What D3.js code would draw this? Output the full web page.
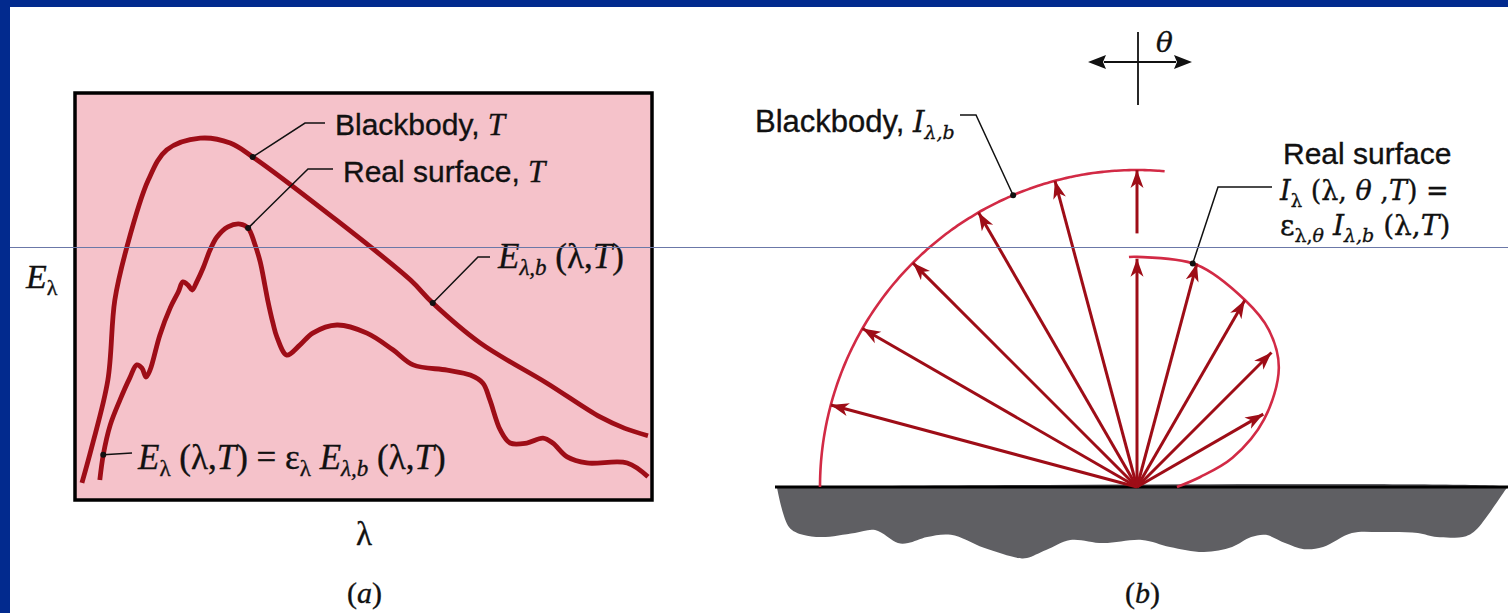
<!DOCTYPE html>
<html>
<head>
<meta charset="utf-8">
<script src="https://cdn.jsdelivr.net/npm/d3@7"></script>
<style>
  html, body { margin: 0; padding: 0; background: #fff; overflow: hidden; }
  svg { display: block; }
</style>
</head>
<body>
<script>
// ---- (a) spectral emissive power, arbitrary units 0..100 across the frame
const bbLambda = [1.2, 2.9, 5.7, 6.9, 9.0, 12.7, 15.9, 21.7, 26.9, 30.8, 44.2, 58.1, 62.0, 70.2, 81.8, 91.0, 95.3, 99.3];
const bbPower  = [4.2, 13.0, 29.5, 49.1, 62.2, 78.6, 86.0, 88.9, 87.7, 84.3, 70.0, 54.1, 48.4, 38.6, 28.7, 20.4, 17.6, 15.8];

const rsLambda = [4.3, 4.9, 6.1, 7.8, 9.5, 10.7, 11.6, 12.3, 13.0, 14.7, 16.5, 17.9, 18.7, 19.6, 20.3, 21.1, 22.2, 23.4, 24.6, 26.5,
                  28.6, 30.0, 31.2, 32.1, 32.9, 33.4, 34.3, 35.0, 36.7, 39.0, 41.2, 45.4, 50.6, 55.1, 58.6, 64.5, 68.5, 70.7,
                  71.9, 73.7, 75.4, 78.3, 81.1, 82.8, 85.3, 88.7, 95.7, 99.3];
const rsPower  = [4.9, 11.1, 18.4, 24.6, 30.0, 33.2, 32.4, 30.2, 31.9, 40.5, 47.2, 51.1, 53.6, 52.8, 51.6, 53.6, 57.0, 61.4, 64.6, 67.1,
                  67.8, 66.8, 62.7, 58.5, 52.8, 49.1, 43.5, 40.0, 35.6, 38.1, 41.0, 43.0, 41.0, 36.9, 33.2, 31.9, 30.7, 28.7,
                  24.6, 17.2, 14.0, 14.0, 15.2, 14.0, 10.6, 9.1, 9.1, 5.7];

// ---- (b) directional intensity; angle in degrees from the surface, intensity relative to blackbody
const bbArrowAngles = [105, 120, 135, 150, 165];
const rsArrowAngles = [30, 45, 60, 75, 90];
const rsArrowLength = [0.46, 0.60, 0.68, 0.73, 0.72];
const rsLobeAngles    = [0, 9, 17, 28, 40, 50, 60, 75, 90, 92];
const rsLobeIntensity = [0.126, 0.202, 0.315, 0.454, 0.584, 0.647, 0.681, 0.726, 0.726, 0.726];

// rough underside of the surface block (offset from emission point, in blackbody radii)
const groundX     = [-1.136, -1.098, -1.054, -0.994, -0.890, -0.826, -0.754, -0.722, -0.662, -0.587, -0.483, -0.375, -0.347, -0.287,
                     -0.211, -0.107, 0.016, 0.104, 0.211, 0.300, 0.360, 0.407, 0.467, 0.527, 0.587, 0.678, 0.767, 0.886, 0.946,
                     1.038, 1.069, 1.167];
const groundDepth = [0, 0.126, 0.151, 0.158, 0.145, 0.136, 0.177, 0.177, 0.158, 0.151, 0.192, 0.224, 0.224, 0.199,
                     0.167, 0.177, 0.167, 0.189, 0.205, 0.189, 0.158, 0.151, 0.177, 0.196, 0.189, 0.145, 0.142, 0.145, 0.158,
                     0.155, 0.136, 0.003];

const W = 1508, H = 613;
const SANS = '"Liberation Sans", Arial, sans-serif';
const SERIF = '"DejaVu Serif", "Liberation Serif", serif';
const TIMES = '"Liberation Serif", "Times New Roman", serif';
const dark = '#9e0d17';
const crimson = '#d22a45';

const svg = d3.select('body').append('svg')
  .attr('width', W).attr('height', H);

// slide frame
svg.append('rect').attr('width', W).attr('height', H).attr('fill', '#fff');
svg.append('rect').attr('width', W).attr('height', 7).attr('fill', '#022a8e');
svg.append('rect').attr('width', 10).attr('height', H).attr('fill', '#022a8e');

// text helper: parts = [{t, f, s, i, dy}]
const label = (x, y, parts, family) => {
  const t = svg.append('text').attr('x', x).attr('y', y)
    .attr('fill', '#111').attr('stroke', '#111').attr('stroke-width', 0.35);
  parts.forEach(p => {
    t.append('tspan')
      .attr('font-family', p.f === 'sans' ? SANS : (family || SERIF))
      .attr('font-size', p.s)
      .attr('font-style', p.i ? 'italic' : 'normal')
      .attr('dy', p.dy || 0)
      .text(p.t);
  });
  return t;
};
const leader = pts => svg.append('path')
  .attr('d', d3.line()(pts)).attr('fill', 'none')
  .attr('stroke', '#111').attr('stroke-width', 1.5);
const dot = (p) => svg.append('circle').attr('cx', p[0]).attr('cy', p[1]).attr('r', 3).attr('fill', '#111');

// ================= (a) =================
const box = {x0: 75, y0: 93, x1: 652, y1: 500};
const x = d3.scaleLinear().domain([0, 100]).range([box.x0, box.x1]);
const y = d3.scaleLinear().domain([0, 100]).range([box.y1, box.y0]);

svg.append('rect')
  .attr('x', box.x0).attr('y', box.y0)
  .attr('width', box.x1 - box.x0).attr('height', box.y1 - box.y0)
  .attr('fill', '#f5c2ca');

const curve = d3.line()
  .x(d => x(d[0])).y(d => y(d[1]))
  .curve(d3.curveCatmullRom.alpha(0.5));

const bb = d3.zip(bbLambda, bbPower);
const rs = d3.zip(rsLambda, rsPower);

svg.append('g').selectAll('path')
  .data([bb, rs])
  .enter().append('path')
  .attr('d', curve)
  .attr('fill', 'none')
  .attr('stroke', dark)
  .attr('stroke-width', 4.8)
  .attr('stroke-linejoin', 'round');

svg.append('rect')
  .attr('x', box.x0).attr('y', box.y0)
  .attr('width', box.x1 - box.x0).attr('height', box.y1 - box.y0)
  .attr('fill', 'none').attr('stroke', '#000').attr('stroke-width', 3.5);

// annotations (a)
const pBB = [x(bb[9][0]), y(bb[9][1])];
leader([pBB, [305, 123], [325, 123]]); dot(pBB);
label(335, 135, [{t: 'Blackbody, ', f: 'sans', s: 30}, {t: 'T', s: 31, i: true}], TIMES);

const pRS = [x(rs[21][0]), y(rs[21][1])];
leader([pRS, [308, 169], [333, 169]]); dot(pRS);
label(343, 182, [{t: 'Real surface, ', f: 'sans', s: 30}, {t: 'T', s: 31, i: true}], TIMES);

const pEb = [x(bb[12][0]), y(bb[12][1])];
leader([pEb, [478, 257], [490, 257]]); dot(pEb);
label(498, 268, [
  {t: 'E', s: 35, i: true}, {t: 'λ,b', s: 23, i: true, dy: 7},
  {t: ' (λ,', s: 35, dy: -7}, {t: 'T', s: 35, i: true}, {t: ')', s: 35}
], TIMES);

const pE = [x(rs[1][0]), y(rs[1][1])];
leader([pE, [132, 453]]); dot(pE);
label(138, 469, [
  {t: 'E', s: 35, i: true}, {t: 'λ', s: 23, dy: 7},
  {t: ' (λ,', s: 35, dy: -7}, {t: 'T', s: 35, i: true}, {t: ') = ε', s: 35},
  {t: 'λ', s: 23, dy: 7}, {t: ' E', s: 35, i: true, dy: -7}, {t: 'λ,b', s: 23, i: true, dy: 7},
  {t: ' (λ,', s: 35, dy: -7}, {t: 'T', s: 35, i: true}, {t: ')', s: 35}
], TIMES);

label(26, 288, [{t: 'E', s: 34, i: true}, {t: 'λ', s: 22, dy: 7}], TIMES);
label(356, 545, [{t: 'λ', s: 33}], TIMES);
label(347, 603, [{t: '(', s: 30}, {t: 'a', s: 30, i: true}, {t: ')', s: 30}], TIMES);

// ================= (b) =================
const origin = {x: 1137, y: 487};
const r = d3.scaleLinear().domain([0, 1]).range([0, 317]);
const rad = d => d * Math.PI / 180;
const polar = (deg, v) => [origin.x + r(v) * Math.cos(rad(deg)), origin.y - r(v) * Math.sin(rad(deg))];

// surface block
const groundPts = [[775, origin.y], [W, origin.y]]
  .concat(d3.zip(groundX, groundDepth).reverse().map(d => [origin.x + r(d[0]), origin.y + r(d[1])]));
svg.append('path')
  .attr('d', d3.line().curve(d3.curveCatmullRom)(groundPts) + 'Z')
  .attr('fill', '#5f5f63');
svg.append('line')
  .attr('x1', 775).attr('x2', W).attr('y1', origin.y).attr('y2', origin.y)
  .attr('stroke', '#000').attr('stroke-width', 3);

const radial = d3.lineRadial()
  .angle(d => rad(90 - d[0]))
  .radius(d => r(d[1]))
  .curve(d3.curveCatmullRom.alpha(0.5));

const lobes = svg.append('g').attr('transform', `translate(${origin.x},${origin.y})`)
  .attr('fill', 'none').attr('stroke', crimson).attr('stroke-width', 2.6);
lobes.append('path').attr('d', radial(d3.range(85, 181, 1).map(a => [a, 1])));
lobes.append('path').attr('d', radial(d3.zip(rsLobeAngles, rsLobeIntensity)));

// arrowheads
svg.append('defs').append('marker')
  .attr('id', 'head')
  .attr('viewBox', '-18 -7 18 14')
  .attr('refX', 0).attr('refY', 0)
  .attr('markerWidth', 18).attr('markerHeight', 14)
  .attr('markerUnits', 'userSpaceOnUse')
  .attr('orient', 'auto')
  .append('path')
  .attr('d', 'M0,0L-18,-6.5L-13,0L-18,6.5Z')
  .attr('fill', dark);

const arrows = bbArrowAngles.map(a => ({a: a, from: 0, to: 1}))
  .concat(rsArrowAngles.map((a, i) => ({a: a, from: 0, to: rsArrowLength[i]})))
  .concat([{a: 90, from: 0.80, to: 1}]);

svg.append('g').selectAll('line')
  .data(arrows)
  .enter().append('line')
  .attr('x1', d => polar(d.a, d.from)[0])
  .attr('y1', d => polar(d.a, d.from)[1])
  .attr('x2', d => polar(d.a, d.to)[0])
  .attr('y2', d => polar(d.a, d.to)[1])
  .attr('stroke', dark)
  .attr('stroke-width', 3)
  .attr('marker-end', 'url(#head)');

// annotations (b)
const pBBb = polar(113, 1);
leader([pBBb, [976, 115], [960, 115]]); dot(pBBb);
label(755, 132, [{t: 'Blackbody, ', f: 'sans', s: 31}, {t: 'I', s: 29, i: true}, {t: 'λ,b', s: 19, i: true, dy: 7}]);

const pRSb = polar(76, 0.727);
leader([pRSb, [1218, 187], [1272, 187]]); dot(pRSb);
label(1283, 164, [{t: 'Real surface', f: 'sans', s: 30}]);
label(1280, 200, [
  {t: 'I', s: 27, i: true}, {t: 'λ', s: 18, dy: 7}, {t: ' (λ, ', s: 27, dy: -7},
  {t: 'θ', s: 27, i: true}, {t: ' ,', s: 27}, {t: 'T', s: 27, i: true}, {t: ') =', s: 27}
]);
label(1280, 235, [
  {t: 'ε', s: 28}, {t: 'λ,', s: 19, dy: 7}, {t: 'θ', s: 19, i: true},
  {t: ' I', s: 28, i: true, dy: -7}, {t: 'λ,b', s: 19, i: true, dy: 7},
  {t: ' (λ,', s: 28, dy: -7}, {t: 'T', s: 28, i: true}, {t: ')', s: 28}
]);

// angle indicator
svg.append('line').attr('x1', 1138).attr('x2', 1138).attr('y1', 32).attr('y2', 105)
  .attr('stroke', '#111').attr('stroke-width', 1.8);
svg.append('line').attr('x1', 1104).attr('x2', 1176).attr('y1', 62).attr('y2', 62)
  .attr('stroke', '#111').attr('stroke-width', 1.8);
svg.append('path').attr('d', 'M1088,62L1106,55L1103,62L1106,69Z').attr('fill', '#111');
svg.append('path').attr('d', 'M1192,62L1174,55L1177,62L1174,69Z').attr('fill', '#111');
label(1156, 52, [{t: 'θ', s: 28, i: true}]);

label(1125, 603, [{t: '(', s: 30}, {t: 'b', s: 30, i: true}, {t: ')', s: 30}], TIMES);

// thin slide rule across the picture
svg.append('line').attr('x1', 10).attr('x2', W).attr('y1', 247.5).attr('y2', 247.5)
  .attr('stroke', '#6b78a8').attr('stroke-width', 1);
</script>
</body>
</html>
